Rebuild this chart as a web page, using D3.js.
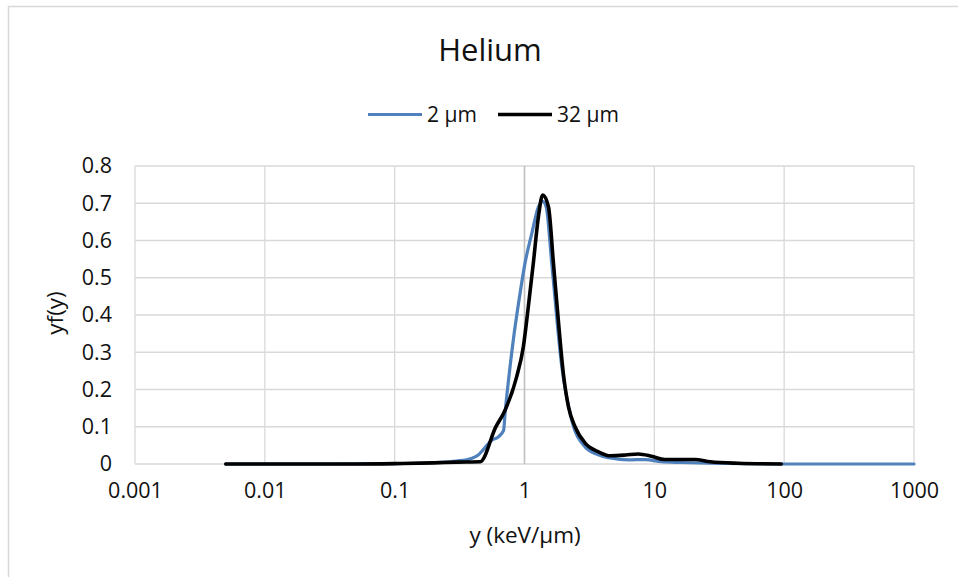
<!DOCTYPE html>
<html>
<head>
<meta charset="utf-8">
<script src="https://cdn.jsdelivr.net/npm/d3@7"></script>
<style>
  html, body { margin: 0; padding: 0; background: #fff; }
  svg { display: block; font-family: "Open Sans", "Noto Sans", sans-serif; }
</style>
</head>
<body>
<svg id="chart" width="958" height="577"></svg>
<script>
// Lineal energy spectra yf(y) for helium ions, two site sizes
const seriesNames = ["2 µm", "32 µm"];
const seriesColors = ["#4f81bd", "#000000"];

const y2umX = [0.005, 0.01, 0.03, 0.1, 0.2, 0.3, 0.39, 0.44, 0.48, 0.56, 0.63, 0.69, 0.71, 0.753,
  0.82, 0.9, 1.01, 1.14, 1.28, 1.38, 1.47, 1.62, 1.94, 2.31, 2.93, 3.7, 4.6, 6.3, 8.5, 11.3,
  16, 27, 50, 100, 1000];
const y2umY = [0, 0, 0, 0.001, 0.004, 0.008, 0.015, 0.024, 0.038, 0.064, 0.073, 0.09, 0.14, 0.225,
  0.333, 0.432, 0.54, 0.62, 0.69, 0.705, 0.69, 0.54, 0.26, 0.118, 0.046, 0.025, 0.016, 0.011, 0.012, 0.006,
  0.004, 0.002, 0.001, 0, 0];

const y32umX = [0.005, 0.01, 0.02, 0.05, 0.1, 0.2, 0.3, 0.456, 0.6, 0.71, 0.87, 0.98, 1.07, 1.17,
  1.28, 1.38, 1.53, 1.67, 1.83, 1.99, 2.18, 2.45, 2.93, 3.7, 4.6, 6, 7.5, 9.5, 12, 16, 20.5,
  27, 44, 95];
const y32umY = [0, 0, 0, 0, 0.001, 0.003, 0.005, 0.006, 0.099, 0.145, 0.234, 0.315, 0.422, 0.54,
  0.664, 0.722, 0.69, 0.54, 0.378, 0.244, 0.154, 0.1, 0.056, 0.033, 0.022, 0.024, 0.027, 0.021, 0.012, 0.012, 0.012,
  0.006, 0.002, 0];

const xTicks = [0.001, 0.01, 0.1, 1, 10, 100, 1000];
const xTickLabels = ["0.001", "0.01", "0.1", "1", "10", "100", "1000"];
const yTicks = [0, 0.1, 0.2, 0.3, 0.4, 0.5, 0.6, 0.7, 0.8];
const yTickLabels = ["0", "0.1", "0.2", "0.3", "0.4", "0.5", "0.6", "0.7", "0.8"];

const titleText = "Helium";
const xTitle = "y (keV/µm)";
const yTitle = "yf(y)";

const svg = d3.select("#chart");
const plot = { left: 135, right: 914, top: 166, bottom: 464 };
const textColor = "#111";
const gridColor = "#d9d9d9";

const x = d3.scaleLog().domain([0.001, 1000]).range([plot.left, plot.right]);
const y = d3.scaleLinear().domain([0, 0.8]).range([plot.bottom, plot.top]);

// chart frame
svg.append("path")
  .attr("d", `M8.5,577 V6.5 H958`)
  .attr("fill", "none").attr("stroke", "#d9d9d9").attr("stroke-width", 1.5);

// gridlines
svg.append("g").selectAll("line").data(yTicks).join("line")
  .attr("x1", plot.left).attr("x2", plot.right)
  .attr("y1", d => y(d)).attr("y2", d => y(d))
  .attr("stroke", gridColor).attr("stroke-width", 1.3);
svg.append("g").selectAll("line").data(xTicks).join("line")
  .attr("x1", d => x(d)).attr("x2", d => x(d))
  .attr("y1", plot.top).attr("y2", plot.bottom)
  .attr("stroke", d => d === 1 ? "#bfbfbf" : gridColor)
  .attr("stroke-width", d => d === 1 ? 1.6 : 1.3);

// axes (labels only, lines come from the grid)
const xAxis = d3.axisBottom(x).tickValues(xTicks)
  .tickFormat((d, i) => xTickLabels[i]).tickSize(0).tickPadding(19);
svg.append("g").attr("transform", `translate(0,${plot.bottom})`).call(xAxis)
  .call(g => g.select(".domain").remove())
  .call(g => g.selectAll("text").attr("font-size", 21.5).attr("fill", textColor)
    .attr("font-family", "Open Sans"));

const yAxis = d3.axisLeft(y).tickValues(yTicks)
  .tickFormat((d, i) => yTickLabels[i]).tickSize(0).tickPadding(23);
svg.append("g").attr("transform", `translate(${plot.left},0)`).call(yAxis)
  .call(g => g.select(".domain").remove())
  .call(g => g.selectAll("text").attr("font-size", 21.5).attr("fill", textColor)
    .attr("font-family", "Open Sans"));

// series lines
const line = d3.line()
  .x(d => x(d[0])).y(d => y(d[1]))
  .curve(d3.curveMonotoneX);

const series = [
  { name: seriesNames[0], color: seriesColors[0], width: 3.2, pts: d3.zip(y2umX, y2umY) },
  { name: seriesNames[1], color: seriesColors[1], width: 3.6, pts: d3.zip(y32umX, y32umY) }
];
svg.append("g").selectAll("path").data(series).join("path")
  .attr("d", d => line(d.pts))
  .attr("fill", "none")
  .attr("stroke", d => d.color)
  .attr("stroke-width", d => d.width)
  .attr("stroke-linejoin", "round")
  .attr("stroke-linecap", "round");

// title
svg.append("text").attr("x", 490).attr("y", 61).attr("text-anchor", "middle")
  .attr("font-size", 31).attr("fill", textColor).text(titleText);

// legend
const legendItems = [
  { s: series[0], x0: 368, x1: 422, tx: 427 },
  { s: series[1], x0: 498, x1: 552, tx: 557 }
];
const lg = svg.append("g");
legendItems.forEach(it => {
  lg.append("line").attr("x1", it.x0).attr("x2", it.x1).attr("y1", 114.5).attr("y2", 114.5)
    .attr("stroke", it.s.color).attr("stroke-width", it.s.width);
  lg.append("text").attr("x", it.tx).attr("y", 122).attr("font-size", 21)
    .attr("fill", textColor).text(it.s.name);
});

// axis titles
svg.append("text").attr("x", 525).attr("y", 543).attr("text-anchor", "middle")
  .attr("font-size", 22.5).attr("fill", textColor).text(xTitle);
svg.append("text").attr("transform", "translate(63,313) rotate(-90)")
  .attr("text-anchor", "middle").attr("font-size", 22.5).attr("fill", textColor).text(yTitle);
</script>
</body>
</html>
